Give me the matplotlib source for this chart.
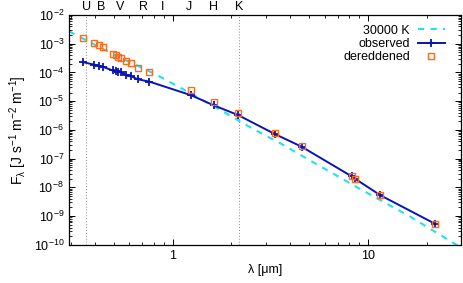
import matplotlib.pyplot as plt
from matplotlib.lines import Line2D
from matplotlib.ticker import LogLocator, NullFormatter

plt.rcParams["font.family"] = ["Liberation Sans", "DejaVu Sans"]
plt.rcParams["mathtext.default"] = "regular"
plt.rcParams["font.size"] = 9

# observed photometry (micron, J s^-1 m^-2 m^-1)
obs_wl = [0.345, 0.396, 0.417, 0.438, 0.492, 0.512, 0.526, 0.543, 0.576, 0.611,
          0.661, 0.759, 1.24, 1.62, 2.16, 3.35, 4.58, 8.28, 8.6, 11.6, 22.1]
obs_flux = [2.3e-4, 1.87e-4, 1.70e-4, 1.58e-4, 1.17e-4, 1.10e-4, 1.05e-4, 1.0e-4,
            8.4e-5, 7.4e-5, 5.8e-5, 4.8e-5, 1.62e-5, 7.2e-6, 3.3e-6, 7.1e-7,
            2.6e-7, 2.4e-8, 2.0e-8, 5.3e-9, 5.4e-10]

# dereddened photometry
der_wl = obs_wl
der_flux = [1.62e-3, 1.09e-3, 8.7e-4, 7.7e-4, 4.5e-4, 3.9e-4, 3.4e-4, 3.1e-4,
            2.5e-4, 2.1e-4, 1.48e-4, 1.07e-4, 2.5e-5, 9.5e-6, 3.8e-6, 7.6e-7,
            2.7e-7, 2.5e-8, 2.0e-8, 5.5e-9, 5.4e-10]

# 30000 K model curve
bb_wl = [0.294, 0.496, 0.828, 1.07, 1.75, 2.54, 3.69, 4.67, 8.78, 16.5, 30.0]
bb_flux = [2.7e-3, 4.3e-4, 8.2e-5, 3.2e-5, 5.0e-6, 1.15e-6, 3.0e-7, 1.18e-7,
           1.02e-8, 9.6e-10, 8.0e-11]

band_names = ["U", "B", "V", "R", "I", "J", "H", "K"]
band_wl = [0.362, 0.43, 0.54, 0.71, 0.89, 1.21, 1.62, 2.19]

fig = plt.figure(figsize=(4.63, 2.83), dpi=100)
ax = fig.add_axes([0.149, 0.135, 0.847, 0.812])

ax.axvline(0.358, color="#888888", lw=0.7, ls=(0, (1, 2)))
ax.axvline(2.19, color="#888888", lw=0.7, ls=(0, (1, 2)))

ax.plot(bb_wl, bb_flux, color="#22e0f0", lw=1.5, ls=(0, (3, 3)), label="30000 K")
ax.plot(obs_wl, obs_flux, color="#0a14b4", lw=1.4, marker="+", ms=6, mew=1.3,
        label="observed")
ax.plot(der_wl, der_flux, ls="none", marker="s", ms=5, mfc="none", mec="#ff6a1a",
        mew=1.0, label="dereddened")

ax.set_xscale("log")
ax.set_yscale("log")
ax.set_xlim(0.294, 30.1)
ax.set_ylim(1e-10, 1e-2)
ax.set_xticks([1, 10])
ax.set_xticklabels(["1", "10"])
ax.xaxis.set_minor_locator(LogLocator(base=10, subs=range(2, 10)))
ax.xaxis.set_minor_formatter(NullFormatter())
ax.yaxis.set_major_locator(LogLocator(base=10, numticks=20))
ax.yaxis.set_minor_locator(LogLocator(base=10, subs=range(2, 10), numticks=20))
ax.yaxis.set_minor_formatter(NullFormatter())
ax.tick_params(which="both", direction="in", top=True, right=True, labelsize=9)
ax.tick_params(which="major", length=4, width=0.7)
ax.tick_params(which="minor", length=2, width=0.6)
for s in ax.spines.values():
    s.set_linewidth(0.9)

for name, wl in zip(band_names, band_wl):
    ax.text(wl, 1.01, name, transform=ax.get_xaxis_transform(), ha="center",
            va="bottom", fontsize=9)

ax.set_xlabel("λ [μm]", fontsize=9, labelpad=2)
ax.set_ylabel("$F_{\\lambda}$ [J s$^{-1}$ m$^{-2}$ m$^{-1}$]", fontsize=10, labelpad=3)

handles = [
    Line2D([], [], color="#22e0f0", lw=1.5, ls=(0, (3, 3))),
    Line2D([], [], color="#0a14b4", lw=1.4, marker="+", ms=6, mew=1.3),
    Line2D([], [], ls="none", marker="s", ms=5, mfc="none", mec="#ff6a1a", mew=1.0),
]
ax.legend(handles, ["30000 K", "observed", "dereddened"], loc="upper right",
          bbox_to_anchor=(0.978, 0.99), markerfirst=False, frameon=False,
          handlelength=2.2, handletextpad=0.6, labelspacing=0.1, fontsize=9,
          borderaxespad=0.2)

fig.savefig("out.png", dpi=100)
